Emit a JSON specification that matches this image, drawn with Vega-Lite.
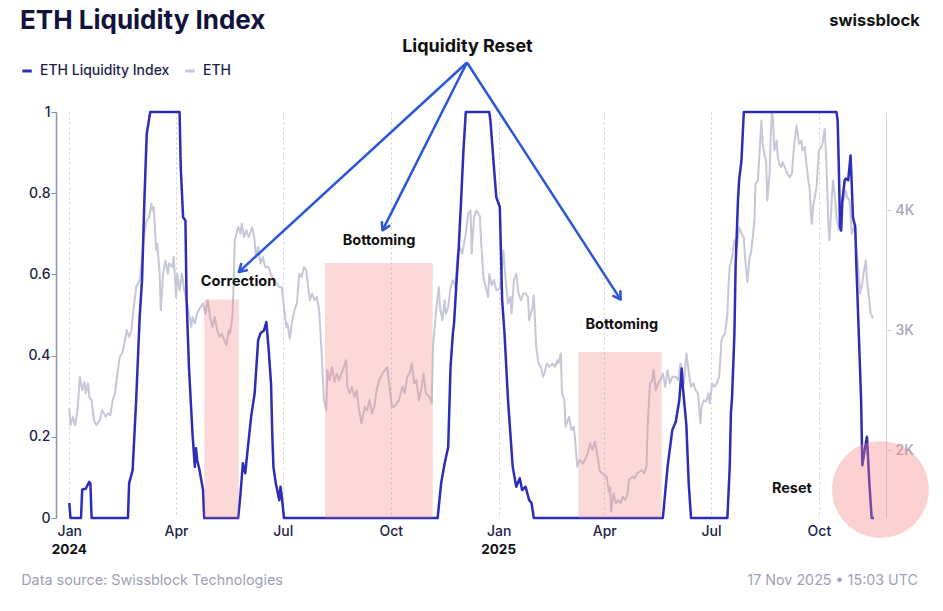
{
  "$schema": "https://vega.github.io/schema/vega-lite/v6.json",
  "width": 830,
  "height": 406,
  "autosize": {"type": "none"},
  "padding": {"left": 56, "top": 112, "right": 57, "bottom": 93},
  "background": "#ffffff",
  "config": {"font": "Inter", "view": {"stroke": null}},
  "datasets": {
    "idx": [
      {"d":"2024-01-01","v":0.037},{"d":"2024-01-02","v":0},{"d":"2024-01-11","v":0},{"d":"2024-01-12","v":0.07},{"d":"2024-01-15","v":0.072},{"d":"2024-01-18","v":0.089},{"d":"2024-01-19","v":0.085},{"d":"2024-01-20","v":0},
      {"d":"2024-02-20","v":0},{"d":"2024-02-21","v":0.086},{"d":"2024-02-24","v":0.118},{"d":"2024-02-27","v":0.29},{"d":"2024-03-01","v":0.495},{"d":"2024-03-03","v":0.585},{"d":"2024-03-05","v":0.782},{"d":"2024-03-07","v":0.946},{"d":"2024-03-10","v":1},
      {"d":"2024-04-04","v":1},{"d":"2024-04-05","v":0.864},{"d":"2024-04-07","v":0.741},{"d":"2024-04-09","v":0.733},{"d":"2024-04-10","v":0.536},{"d":"2024-04-12","v":0.372},{"d":"2024-04-15","v":0.209},{"d":"2024-04-17","v":0.126},{"d":"2024-04-18","v":0.172},{"d":"2024-04-19","v":0.143},{"d":"2024-04-21","v":0.118},{"d":"2024-04-24","v":0.069},{"d":"2024-04-25","v":0},
      {"d":"2024-05-24","v":0},{"d":"2024-05-26","v":0.061},{"d":"2024-05-28","v":0.135},{"d":"2024-05-30","v":0.11},{"d":"2024-06-01","v":0.167},{"d":"2024-06-04","v":0.249},{"d":"2024-06-07","v":0.307},{"d":"2024-06-10","v":0.438},{"d":"2024-06-12","v":0.455},{"d":"2024-06-15","v":0.462},{"d":"2024-06-17","v":0.483},{"d":"2024-06-19","v":0.413},{"d":"2024-06-21","v":0.33},{"d":"2024-06-22","v":0.209},{"d":"2024-06-23","v":0.126},{"d":"2024-06-25","v":0.086},{"d":"2024-06-28","v":0.044},{"d":"2024-06-29","v":0.077},{"d":"2024-06-30","v":0.057},{"d":"2024-07-02","v":0},
      {"d":"2024-11-10","v":0},{"d":"2024-11-13","v":0.086},{"d":"2024-11-16","v":0.135},{"d":"2024-11-19","v":0.175},{"d":"2024-11-21","v":0.372},{"d":"2024-11-23","v":0.455},{"d":"2024-11-24","v":0.48},{"d":"2024-11-26","v":0.578},{"d":"2024-11-28","v":0.667},{"d":"2024-11-30","v":0.782},{"d":"2024-12-02","v":0.905},{"d":"2024-12-04","v":1},
      {"d":"2024-12-24","v":1},{"d":"2024-12-25","v":0.979},{"d":"2024-12-28","v":0.864},{"d":"2024-12-30","v":0.79},{"d":"2024-12-31","v":0.782},{"d":"2025-01-02","v":0.766},{"d":"2025-01-04","v":0.536},{"d":"2025-01-06","v":0.455},{"d":"2025-01-09","v":0.29},{"d":"2025-01-13","v":0.126},{"d":"2025-01-16","v":0.077},{"d":"2025-01-19","v":0.098},{"d":"2025-01-21","v":0.069},{"d":"2025-01-24","v":0.077},{"d":"2025-01-27","v":0.044},{"d":"2025-01-29","v":0.037},{"d":"2025-01-31","v":0},
      {"d":"2025-05-21","v":0},{"d":"2025-05-25","v":0.126},{"d":"2025-05-29","v":0.216},{"d":"2025-06-01","v":0.237},{"d":"2025-06-04","v":0.29},{"d":"2025-06-06","v":0.368},{"d":"2025-06-07","v":0.323},{"d":"2025-06-10","v":0.23},{"d":"2025-06-12","v":0.086},{"d":"2025-06-14","v":0},
      {"d":"2025-07-15","v":0},{"d":"2025-07-17","v":0.126},{"d":"2025-07-18","v":0.258},{"d":"2025-07-19","v":0.298},{"d":"2025-07-21","v":0.455},{"d":"2025-07-22","v":0.618},{"d":"2025-07-24","v":0.782},{"d":"2025-07-25","v":0.832},{"d":"2025-07-27","v":0.881},{"d":"2025-07-29","v":1},
      {"d":"2025-10-16","v":1},{"d":"2025-10-17","v":0.979},{"d":"2025-10-18","v":0.864},{"d":"2025-10-19","v":0.717},{"d":"2025-10-20","v":0.708},{"d":"2025-10-21","v":0.782},{"d":"2025-10-23","v":0.832},{"d":"2025-10-24","v":0.836},{"d":"2025-10-26","v":0.832},{"d":"2025-10-28","v":0.893},{"d":"2025-10-29","v":0.823},{"d":"2025-10-30","v":0.741},{"d":"2025-11-01","v":0.717},{"d":"2025-11-02","v":0.618},{"d":"2025-11-04","v":0.455},{"d":"2025-11-06","v":0.29},{"d":"2025-11-07","v":0.13},{"d":"2025-11-09","v":0.167},{"d":"2025-11-11","v":0.2},{"d":"2025-11-13","v":0.086},{"d":"2025-11-15","v":0},{"d":"2025-11-17","v":0}
    ],
    "eth": [
      {"d":"2024-01-01","v":2348},{"d":"2024-01-02","v":2208},{"d":"2024-01-04","v":2278},{"d":"2024-01-06","v":2208},{"d":"2024-01-08","v":2333},{"d":"2024-01-10","v":2611},{"d":"2024-01-12","v":2500},{"d":"2024-01-14","v":2569},{"d":"2024-01-15","v":2473},{"d":"2024-01-17","v":2556},{"d":"2024-01-18","v":2444},{"d":"2024-01-20","v":2417},{"d":"2024-01-22","v":2250},{"d":"2024-01-24","v":2208},{"d":"2024-01-27","v":2250},{"d":"2024-01-29","v":2333},
      {"d":"2024-02-01","v":2278},{"d":"2024-02-03","v":2306},{"d":"2024-02-05","v":2292},{"d":"2024-02-07","v":2417},{"d":"2024-02-09","v":2473},{"d":"2024-02-11","v":2639},{"d":"2024-02-13","v":2778},{"d":"2024-02-15","v":2806},{"d":"2024-02-17","v":2889},{"d":"2024-02-19","v":3000},{"d":"2024-02-21","v":2944},{"d":"2024-02-23","v":3000},{"d":"2024-02-25","v":3194},{"d":"2024-02-27","v":3361},
      {"d":"2024-03-01","v":3417},{"d":"2024-03-03","v":3611},{"d":"2024-03-05","v":3806},{"d":"2024-03-07","v":3917},{"d":"2024-03-09","v":3944},{"d":"2024-03-11","v":4056},{"d":"2024-03-12","v":4000},{"d":"2024-03-13","v":4028},{"d":"2024-03-15","v":3667},{"d":"2024-03-16","v":3722},{"d":"2024-03-18","v":3472},{"d":"2024-03-19","v":3167},{"d":"2024-03-21","v":3472},{"d":"2024-03-23","v":3583},{"d":"2024-03-25","v":3472},{"d":"2024-03-26","v":3556},{"d":"2024-03-29","v":3528},{"d":"2024-03-30","v":3611},
      {"d":"2024-04-01","v":3278},{"d":"2024-04-02","v":3472},{"d":"2024-04-04","v":3333},{"d":"2024-04-06","v":3472},{"d":"2024-04-08","v":3333},{"d":"2024-04-10","v":3250},{"d":"2024-04-12","v":3139},{"d":"2024-04-14","v":3028},{"d":"2024-04-15","v":3111},{"d":"2024-04-17","v":3056},{"d":"2024-04-19","v":3139},{"d":"2024-04-21","v":3181},{"d":"2024-04-24","v":3222},{"d":"2024-04-26","v":3139},{"d":"2024-04-28","v":3250},{"d":"2024-04-30","v":3111},
      {"d":"2024-05-02","v":3028},{"d":"2024-05-04","v":3111},{"d":"2024-05-06","v":3000},{"d":"2024-05-08","v":2944},{"d":"2024-05-10","v":2972},{"d":"2024-05-12","v":2917},{"d":"2024-05-14","v":2875},{"d":"2024-05-16","v":3000},{"d":"2024-05-17","v":2972},{"d":"2024-05-19","v":3111},{"d":"2024-05-20","v":3361},{"d":"2024-05-21","v":3750},{"d":"2024-05-24","v":3861},{"d":"2024-05-26","v":3806},{"d":"2024-05-27","v":3889},{"d":"2024-05-29","v":3778},{"d":"2024-05-31","v":3833},
      {"d":"2024-06-02","v":3778},{"d":"2024-06-05","v":3861},{"d":"2024-06-07","v":3750},{"d":"2024-06-08","v":3611},{"d":"2024-06-10","v":3694},{"d":"2024-06-12","v":3556},{"d":"2024-06-14","v":3611},{"d":"2024-06-16","v":3528},{"d":"2024-06-19","v":3528},{"d":"2024-06-21","v":3458},{"d":"2024-06-24","v":3417},{"d":"2024-06-28","v":3361},{"d":"2024-06-30","v":3361},
      {"d":"2024-07-02","v":3194},{"d":"2024-07-04","v":3028},{"d":"2024-07-05","v":3056},{"d":"2024-07-07","v":2931},{"d":"2024-07-09","v":3083},{"d":"2024-07-11","v":3167},{"d":"2024-07-13","v":3222},{"d":"2024-07-15","v":3472},{"d":"2024-07-17","v":3444},{"d":"2024-07-19","v":3528},{"d":"2024-07-21","v":3500},{"d":"2024-07-24","v":3250},{"d":"2024-07-26","v":3306},{"d":"2024-07-28","v":3250},{"d":"2024-07-30","v":3278},
      {"d":"2024-08-01","v":3167},{"d":"2024-08-03","v":2833},{"d":"2024-08-05","v":2417},{"d":"2024-08-07","v":2333},{"d":"2024-08-08","v":2667},{"d":"2024-08-10","v":2583},{"d":"2024-08-12","v":2694},{"d":"2024-08-14","v":2569},{"d":"2024-08-16","v":2639},{"d":"2024-08-18","v":2583},{"d":"2024-08-20","v":2639},{"d":"2024-08-22","v":2694},{"d":"2024-08-24","v":2750},{"d":"2024-08-25","v":2528},{"d":"2024-08-27","v":2473},{"d":"2024-08-29","v":2528},{"d":"2024-08-31","v":2444},
      {"d":"2024-09-02","v":2500},{"d":"2024-09-04","v":2333},{"d":"2024-09-06","v":2222},{"d":"2024-09-09","v":2361},{"d":"2024-09-11","v":2333},{"d":"2024-09-13","v":2417},{"d":"2024-09-15","v":2306},{"d":"2024-09-17","v":2361},{"d":"2024-09-19","v":2500},{"d":"2024-09-21","v":2583},{"d":"2024-09-24","v":2639},{"d":"2024-09-26","v":2667},{"d":"2024-09-28","v":2694},{"d":"2024-09-30","v":2528},
      {"d":"2024-10-02","v":2361},{"d":"2024-10-04","v":2361},{"d":"2024-10-06","v":2389},{"d":"2024-10-08","v":2417},{"d":"2024-10-11","v":2528},{"d":"2024-10-13","v":2473},{"d":"2024-10-15","v":2611},{"d":"2024-10-17","v":2639},{"d":"2024-10-19","v":2722},{"d":"2024-10-21","v":2556},{"d":"2024-10-23","v":2583},{"d":"2024-10-25","v":2417},{"d":"2024-10-27","v":2500},{"d":"2024-10-29","v":2639},{"d":"2024-10-31","v":2473},
      {"d":"2024-11-03","v":2444},{"d":"2024-11-05","v":2389},{"d":"2024-11-06","v":2861},{"d":"2024-11-09","v":3194},{"d":"2024-11-11","v":3361},{"d":"2024-11-12","v":3194},{"d":"2024-11-14","v":3083},{"d":"2024-11-16","v":3250},{"d":"2024-11-17","v":3139},{"d":"2024-11-19","v":3194},{"d":"2024-11-21","v":3361},{"d":"2024-11-23","v":3417},{"d":"2024-11-25","v":3361},{"d":"2024-11-27","v":3639},{"d":"2024-11-29","v":3694},
      {"d":"2024-12-01","v":3639},{"d":"2024-12-04","v":3806},{"d":"2024-12-06","v":3972},{"d":"2024-12-08","v":4000},{"d":"2024-12-09","v":3639},{"d":"2024-12-11","v":3944},{"d":"2024-12-13","v":4000},{"d":"2024-12-16","v":3950},{"d":"2024-12-17","v":3750},{"d":"2024-12-19","v":3444},{"d":"2024-12-21","v":3361},{"d":"2024-12-23","v":3278},{"d":"2024-12-24","v":3472},{"d":"2024-12-26","v":3375},{"d":"2024-12-28","v":3417},{"d":"2024-12-30","v":3333},
      {"d":"2025-01-02","v":3347},{"d":"2025-01-04","v":3528},{"d":"2025-01-05","v":3667},{"d":"2025-01-07","v":3417},{"d":"2025-01-09","v":3222},{"d":"2025-01-11","v":3278},{"d":"2025-01-12","v":3139},{"d":"2025-01-14","v":3417},{"d":"2025-01-16","v":3472},{"d":"2025-01-18","v":3306},{"d":"2025-01-20","v":3250},{"d":"2025-01-22","v":3306},{"d":"2025-01-24","v":3306},{"d":"2025-01-26","v":3278},{"d":"2025-01-27","v":3083},{"d":"2025-01-30","v":3194},{"d":"2025-01-31","v":3292},
      {"d":"2025-02-02","v":2861},{"d":"2025-02-04","v":2722},{"d":"2025-02-06","v":2694},{"d":"2025-02-08","v":2611},{"d":"2025-02-09","v":2639},{"d":"2025-02-11","v":2722},{"d":"2025-02-13","v":2694},{"d":"2025-02-16","v":2722},{"d":"2025-02-18","v":2694},{"d":"2025-02-20","v":2750},{"d":"2025-02-21","v":2722},{"d":"2025-02-23","v":2806},{"d":"2025-02-24","v":2473},{"d":"2025-02-26","v":2417},{"d":"2025-02-27","v":2194},
      {"d":"2025-03-02","v":2278},{"d":"2025-03-04","v":2167},{"d":"2025-03-06","v":2194},{"d":"2025-03-07","v":2111},{"d":"2025-03-09","v":1861},{"d":"2025-03-11","v":1917},{"d":"2025-03-14","v":1889},{"d":"2025-03-16","v":1931},{"d":"2025-03-18","v":1972},{"d":"2025-03-20","v":2056},{"d":"2025-03-22","v":2000},{"d":"2025-03-24","v":2069},{"d":"2025-03-26","v":1972},{"d":"2025-03-28","v":1833},{"d":"2025-03-30","v":1806},
      {"d":"2025-04-01","v":1792},{"d":"2025-04-03","v":1778},{"d":"2025-04-05","v":1653},{"d":"2025-04-06","v":1694},{"d":"2025-04-07","v":1486},{"d":"2025-04-09","v":1639},{"d":"2025-04-11","v":1556},{"d":"2025-04-13","v":1583},{"d":"2025-04-15","v":1556},{"d":"2025-04-17","v":1611},{"d":"2025-04-19","v":1583},{"d":"2025-04-21","v":1639},{"d":"2025-04-22","v":1750},{"d":"2025-04-25","v":1778},{"d":"2025-04-27","v":1764},{"d":"2025-04-29","v":1806},
      {"d":"2025-05-01","v":1819},{"d":"2025-05-03","v":1833},{"d":"2025-05-05","v":1806},{"d":"2025-05-07","v":1861},{"d":"2025-05-08","v":2194},{"d":"2025-05-10","v":2556},{"d":"2025-05-12","v":2583},{"d":"2025-05-13","v":2667},{"d":"2025-05-15","v":2500},{"d":"2025-05-17","v":2556},{"d":"2025-05-19","v":2583},{"d":"2025-05-21","v":2639},{"d":"2025-05-23","v":2528},{"d":"2025-05-25","v":2667},{"d":"2025-05-27","v":2556},{"d":"2025-05-29","v":2611},
      {"d":"2025-06-01","v":2611},{"d":"2025-06-03","v":2583},{"d":"2025-06-05","v":2722},{"d":"2025-06-07","v":2639},{"d":"2025-06-08","v":2556},{"d":"2025-06-10","v":2806},{"d":"2025-06-13","v":2583},{"d":"2025-06-14","v":2528},{"d":"2025-06-16","v":2556},{"d":"2025-06-18","v":2500},{"d":"2025-06-20","v":2473},{"d":"2025-06-22","v":2222},{"d":"2025-06-23","v":2361},{"d":"2025-06-25","v":2417},{"d":"2025-06-27","v":2403},{"d":"2025-06-29","v":2473},{"d":"2025-06-30","v":2389},
      {"d":"2025-07-02","v":2556},{"d":"2025-07-04","v":2528},{"d":"2025-07-06","v":2556},{"d":"2025-07-08","v":2611},{"d":"2025-07-10","v":2917},{"d":"2025-07-11","v":2944},{"d":"2025-07-13","v":2972},{"d":"2025-07-15","v":3139},{"d":"2025-07-16","v":3389},{"d":"2025-07-17","v":3528},{"d":"2025-07-19","v":3611},{"d":"2025-07-21","v":3750},{"d":"2025-07-23","v":3694},{"d":"2025-07-25","v":3861},{"d":"2025-07-27","v":3806},{"d":"2025-07-29","v":3778},{"d":"2025-07-30","v":3611},
      {"d":"2025-08-01","v":3403},{"d":"2025-08-03","v":3611},{"d":"2025-08-04","v":3639},{"d":"2025-08-06","v":3806},{"d":"2025-08-07","v":3917},{"d":"2025-08-08","v":4222},{"d":"2025-08-10","v":4250},{"d":"2025-08-12","v":4583},{"d":"2025-08-13","v":4750},{"d":"2025-08-14","v":4556},{"d":"2025-08-16","v":4444},{"d":"2025-08-17","v":4417},{"d":"2025-08-18","v":4083},{"d":"2025-08-20","v":4306},{"d":"2025-08-21","v":4639},{"d":"2025-08-22","v":4819},{"d":"2025-08-23","v":4750},{"d":"2025-08-24","v":4500},{"d":"2025-08-26","v":4583},{"d":"2025-08-27","v":4444},{"d":"2025-08-28","v":4389},{"d":"2025-08-30","v":4361},{"d":"2025-08-31","v":4403},
      {"d":"2025-09-02","v":4361},{"d":"2025-09-03","v":4333},{"d":"2025-09-04","v":4306},{"d":"2025-09-06","v":4278},{"d":"2025-09-08","v":4306},{"d":"2025-09-10","v":4556},{"d":"2025-09-12","v":4708},{"d":"2025-09-13","v":4639},{"d":"2025-09-14","v":4556},{"d":"2025-09-16","v":4583},{"d":"2025-09-17","v":4500},{"d":"2025-09-19","v":4528},{"d":"2025-09-20","v":4417},{"d":"2025-09-22","v":4250},{"d":"2025-09-23","v":4194},{"d":"2025-09-24","v":4000},{"d":"2025-09-25","v":3889},{"d":"2025-09-26","v":4028},{"d":"2025-09-28","v":4139},{"d":"2025-09-29","v":4194},
      {"d":"2025-10-01","v":4500},{"d":"2025-10-03","v":4528},{"d":"2025-10-04","v":4556},{"d":"2025-10-06","v":4681},{"d":"2025-10-07","v":4472},{"d":"2025-10-08","v":4222},{"d":"2025-10-09","v":3917},{"d":"2025-10-10","v":3750},{"d":"2025-10-12","v":4083},{"d":"2025-10-13","v":4250},{"d":"2025-10-15","v":4083},{"d":"2025-10-16","v":3944},{"d":"2025-10-18","v":3833},{"d":"2025-10-19","v":3944},{"d":"2025-10-21","v":4111},{"d":"2025-10-22","v":4083},{"d":"2025-10-24","v":4167},{"d":"2025-10-25","v":4111},{"d":"2025-10-27","v":4083},{"d":"2025-10-28","v":3972},{"d":"2025-10-29","v":3806},{"d":"2025-10-31","v":3861},
      {"d":"2025-11-01","v":3806},{"d":"2025-11-02","v":3667},{"d":"2025-11-04","v":3472},{"d":"2025-11-05","v":3306},{"d":"2025-11-07","v":3389},{"d":"2025-11-08","v":3472},{"d":"2025-11-10","v":3583},{"d":"2025-11-11","v":3417},{"d":"2025-11-13","v":3250},{"d":"2025-11-14","v":3139},{"d":"2025-11-15","v":3125},{"d":"2025-11-16","v":3097}
    ],
    "zones": [
      {"start":"2024-04-25","end":"2024-05-24T10:00:00","top":0.538},
      {"start":"2024-08-06","end":"2024-11-05T20:00:00","top":0.628},
      {"start":"2025-03-10","end":"2025-05-20","top":0.409}
    ],
    "reset": [{"d":"2025-11-22T12:00:00","y":0.07}],
    "arrows": [
      {"d0":"2024-12-05","y0":1.122,"d1":"2024-05-24T12:00:00","y1":0.606,"ang":47.4},
      {"d0":"2024-12-05","y0":1.122,"d1":"2024-09-24","y1":0.7085,"ang":26.6},
      {"d0":"2024-12-05","y0":1.122,"d1":"2025-04-15","y1":0.538,"ang":-33}
    ],
    "notes": [
      {"d":"2024-05-24T06:00:00","y":0.581,"t":"Correction"},
      {"d":"2024-09-21","y":0.682,"t":"Bottoming"},
      {"d":"2025-04-16","y":0.475,"t":"Bottoming"},
      {"d":"2025-09-08","y":0.0706,"t":"Reset"}
    ],
    "years": [
      {"d":"2024-01-01","y":-0.08,"t":"2024"},
      {"d":"2025-01-01","y":-0.08,"t":"2025"}
    ]
  },
  "layer": [
    {
      "data": {"name": "eth"},
      "mark": {"type": "line", "strokeWidth": 2, "strokeJoin": "round"},
      "encoding": {
        "x": {
          "field": "d", "type": "temporal", "title": null,
          "scale": {"type": "utc", "domain": [{"year": 2023, "month": 12, "date": 20, "hours": 16, "utc": true}, {"year": 2025, "month": 11, "date": 27, "hours": 5, "utc": true}]},
          "axis": {
            "values": [
              {"year": 2024, "month": 1, "date": 1, "utc": true},
              {"year": 2024, "month": 4, "date": 1, "utc": true},
              {"year": 2024, "month": 7, "date": 1, "utc": true},
              {"year": 2024, "month": 10, "date": 1, "utc": true},
              {"year": 2025, "month": 1, "date": 1, "utc": true},
              {"year": 2025, "month": 4, "date": 1, "utc": true},
              {"year": 2025, "month": 7, "date": 1, "utc": true},
              {"year": 2025, "month": 10, "date": 1, "utc": true}
            ],
            "labelExpr": "utcFormat(datum.value, '%b')",
            "grid": true, "gridDash": [2, 3], "gridColor": "#cbccd8", "gridWidth": 1,
            "domain": false, "ticks": false,
            "labelFontSize": 14, "labelFontWeight": 500, "labelColor": "#1d1f4a", "labelPadding": 6
          }
        },
        "y": {
          "field": "v", "type": "quantitative", "title": null,
          "scale": {"domain": [1433, 4821], "nice": false, "zero": false},
          "axis": {
            "orient": "right", "values": [2000, 3000, 4000],
            "labelExpr": "(datum.value / 1000) + 'K'",
            "grid": false, "domainColor": "#d3d4dd", "tickColor": "#d3d4dd", "tickSize": 5,
            "labelColor": "#a4a6ba", "labelFontSize": 14, "labelFontWeight": 500, "labelPadding": 4
          }
        },
        "color": {
          "datum": "ETH",
          "scale": {"domain": ["ETH Liquidity Index", "ETH"], "range": ["#2d2db8", "#c6c7d7"]},
          "legend": {
            "title": null, "orient": "none", "legendX": -36, "legendY": -48, "direction": "horizontal",
            "symbolType": "stroke", "symbolSize": 90, "symbolStrokeWidth": 3,
            "labelFontSize": 14, "labelFontWeight": 500, "labelColor": "#1d1f4a",
            "labelOffset": 6, "columnPadding": 9
          }
        }
      }
    },
    {
      "layer": [
        {
          "data": {"name": "idx"},
          "mark": {"type": "line", "strokeWidth": 2.5, "strokeJoin": "round"},
          "encoding": {
            "x": {"field": "d", "type": "temporal", "title": null},
            "y": {
              "field": "v", "type": "quantitative", "title": null,
              "scale": {"domain": [0, 1], "nice": false, "zero": false},
              "axis": {
                "orient": "left", "values": [0, 0.2, 0.4, 0.6, 0.8, 1], "format": "~g",
                "grid": false, "domainColor": "#8e92ad", "domainWidth": 1.5, "tickColor": "#8e92ad", "tickSize": 5,
                "labelFontSize": 14, "labelFontWeight": 500, "labelColor": "#1d1f4a", "labelPadding": 1
              }
            },
            "color": {"datum": "ETH Liquidity Index"}
          }
        },
        {
          "data": {"name": "zones"},
          "mark": {"type": "rect", "color": "#f58080", "opacity": 0.3},
          "encoding": {
            "x": {"field": "start", "type": "temporal", "title": null},
            "x2": {"field": "end"},
            "y": {"field": "top", "type": "quantitative", "title": null},
            "y2": {"datum": 0}
          }
        },
        {
          "data": {"name": "reset"},
          "mark": {"type": "circle", "color": "#f58080", "opacity": 0.36, "size": 9366},
          "encoding": {
            "x": {"field": "d", "type": "temporal", "title": null},
            "y": {"field": "y", "type": "quantitative", "title": null}
          }
        },
        {
          "data": {"name": "arrows"},
          "mark": {"type": "rule", "color": "#2b56d8", "strokeWidth": 2.5},
          "encoding": {
            "x": {"field": "d0", "type": "temporal", "title": null},
            "y": {"field": "y0", "type": "quantitative", "title": null},
            "x2": {"field": "d1"},
            "y2": {"field": "y1"}
          }
        },
        {
          "data": {"name": "arrows"},
          "mark": {"type": "point", "shape": "M-0.6,-1L0,0L0.6,-1", "filled": false, "color": "#2b56d8", "strokeWidth": 2.5, "size": 200, "opacity": 1, "strokeCap": "round", "strokeJoin": "round"},
          "encoding": {
            "x": {"field": "d1", "type": "temporal", "title": null},
            "y": {"field": "y1", "type": "quantitative", "title": null},
            "angle": {"field": "ang", "type": "quantitative", "scale": null}
          }
        },
        {
          "data": {"name": "notes"},
          "mark": {"type": "text", "fontSize": 14.5, "fontWeight": "bold", "color": "#111111", "align": "center", "baseline": "middle"},
          "encoding": {
            "x": {"field": "d", "type": "temporal", "title": null},
            "y": {"field": "y", "type": "quantitative", "title": null},
            "text": {"field": "t"}
          }
        },
        {
          "data": {"values": [{"d": "2024-12-05T10:00:00", "y": 1.159, "t": "Liquidity Reset"}]},
          "mark": {"type": "text", "fontSize": 18, "fontWeight": "bold", "color": "#111111", "align": "center", "baseline": "middle"},
          "encoding": {
            "x": {"field": "d", "type": "temporal", "title": null},
            "y": {"field": "y", "type": "quantitative", "title": null},
            "text": {"field": "t"}
          }
        },
        {
          "data": {"name": "years"},
          "mark": {"type": "text", "fontSize": 13.5, "fontWeight": "bold", "color": "#111111", "align": "center", "baseline": "middle"},
          "encoding": {
            "x": {"field": "d", "type": "temporal", "title": null},
            "y": {"field": "y", "type": "quantitative", "title": null},
            "text": {"field": "t"}
          }
        },
        {
          "data": {"values": [{"d": "2023-11-20", "y": 1.2047, "t": "ETH Liquidity Index"}]},
          "mark": {"type": "text", "fontSize": 26, "fontWeight": "bold", "color": "#12133d", "align": "left", "baseline": "alphabetic"},
          "encoding": {
            "x": {"field": "d", "type": "temporal", "title": null},
            "y": {"field": "y", "type": "quantitative", "title": null},
            "text": {"field": "t"}
          }
        },
        {
          "data": {"values": [{"d": "2025-12-26", "y": 1.225, "t": "swissblock"}]},
          "mark": {"type": "text", "fontSize": 16.5, "fontWeight": "bold", "color": "#151515", "align": "right", "baseline": "middle"},
          "encoding": {
            "x": {"field": "d", "type": "temporal", "title": null},
            "y": {"field": "y", "type": "quantitative", "title": null},
            "text": {"field": "t"}
          }
        },
        {
          "data": {"values": [{"d": "2023-11-21", "y": -0.155, "t": "Data source: Swissblock Technologies"}]},
          "mark": {"type": "text", "fontSize": 14.4, "color": "#9fa1b5", "align": "left", "baseline": "middle"},
          "encoding": {
            "x": {"field": "d", "type": "temporal", "title": null},
            "y": {"field": "y", "type": "quantitative", "title": null},
            "text": {"field": "t"}
          }
        },
        {
          "data": {"values": [{"d": "2025-12-24T12:00:00", "y": -0.155, "t": "17 Nov 2025 • 15:03 UTC"}]},
          "mark": {"type": "text", "fontSize": 14.3, "color": "#9fa1b5", "align": "right", "baseline": "middle"},
          "encoding": {
            "x": {"field": "d", "type": "temporal", "title": null},
            "y": {"field": "y", "type": "quantitative", "title": null},
            "text": {"field": "t"}
          }
        }
      ]
    }
  ],
  "resolve": {"scale": {"y": "independent"}}
}
